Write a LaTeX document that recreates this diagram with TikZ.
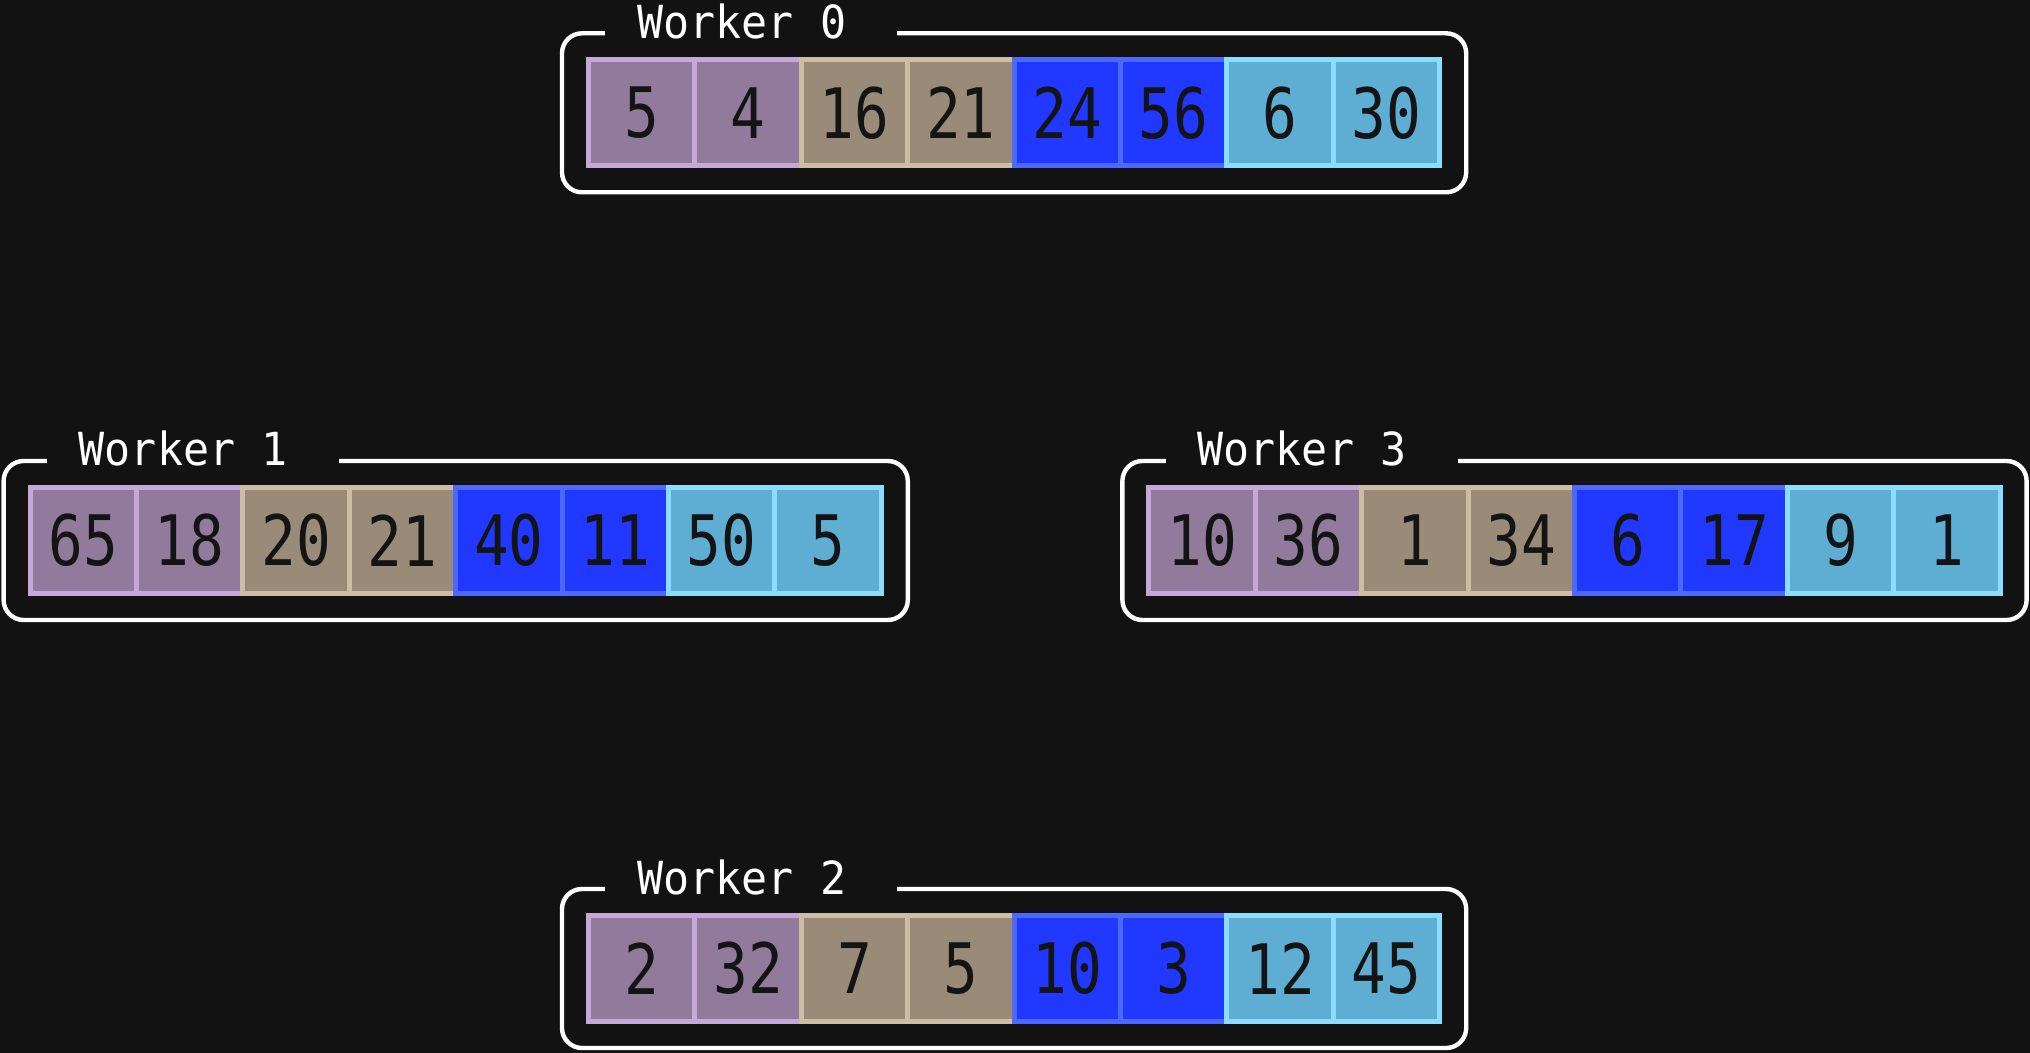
\documentclass[tikz,border=0pt]{standalone}
\usepackage{fontspec}
\usetikzlibrary{fit}
\newfontfamily\cellfont[FakeStretch=0.83]{DejaVu Sans Mono}
\newfontfamily\titlefont[FakeStretch=0.95]{DejaVu Sans Mono}
\definecolor{bg}{HTML}{121212}
\definecolor{cellink}{HTML}{141414}
\definecolor{pufill}{HTML}{917A9C}
\definecolor{puline}{HTML}{C6A8D6}
\definecolor{tafill}{HTML}{9A8B78}
\definecolor{taline}{HTML}{CDBCA6}
\definecolor{blfill}{HTML}{2038FF}
\definecolor{blline}{HTML}{4D68FF}
\definecolor{skfill}{HTML}{5EADD3}
\definecolor{skline}{HTML}{8ADDFF}
\begin{document}
\begin{tikzpicture}[x=0.5pt,y=-0.5pt,
	cell/.style={draw,line width=2.5pt,minimum width=53.2pt,minimum height=53pt,inner sep=0pt,outer sep=0pt,text=cellink,font=\cellfont\fontsize{34.8}{40}\selectfont},
	cell0/.style={cell,fill=pufill,draw=puline},
	cell1/.style={cell,fill=tafill,draw=taline},
	cell2/.style={cell,fill=blfill,draw=blline},
	cell3/.style={cell,fill=skfill,draw=skline},
	wbox/.style={draw=white,line width=2.2pt,rounded corners=10pt,inner sep=13.25pt},
	wtitle/.style={anchor=base west,fill=bg,text=white,inner xsep=16pt,text width=114pt,align=left,font=\titlefont\fontsize{22.8}{26}\selectfont}]
	\fill[bg] (0,0) rectangle (2030,1053);
	\useasboundingbox (0,0) rectangle (2030,1053);
	% worker / first cell centre / values
	\foreach \w/\px/\py/\vals in {0/641.7/112.8/{5,4,16,21,24,56,6,30},1/83.3/540.5/{65,18,20,21,40,11,50,5},3/1202.1/540.5/{10,36,1,34,6,17,9,1},2/641.7/968.5/{2,32,7,5,10,3,12,45}}{
		\foreach \v [count=\i] in \vals {
			\pgfmathtruncatemacro\g{(\i-1)/2}
			\node[cell\g] (w\w-\i) at ({\px+(\i-1)*106.4},\py) {\v};
		}
		\node[wbox,fit=(w\w-1)(w\w-8)] (b\w) {};
		\node[wtitle] (t\w) at ([xshift=22.5pt,yshift=-3.6pt]b\w.north west) {Worker \hspace{.25em}\w};
	}
\end{tikzpicture}
\end{document}
